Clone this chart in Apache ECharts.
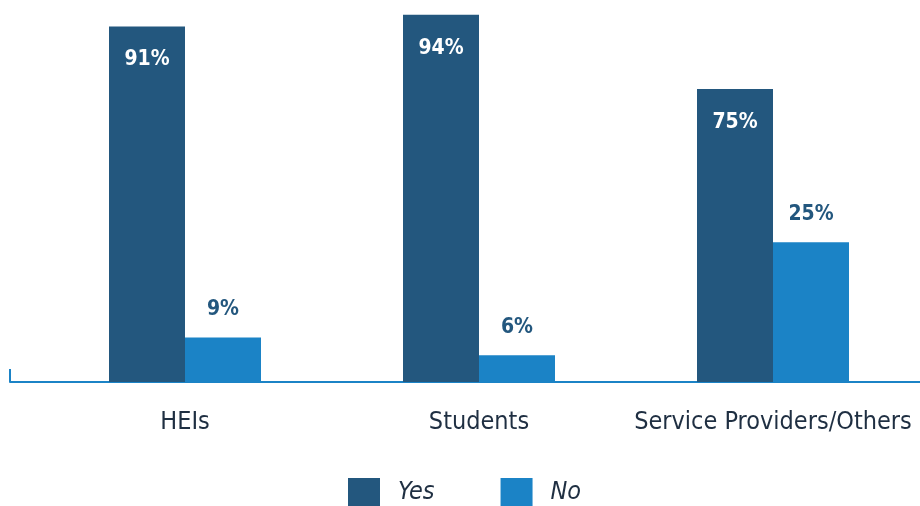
<!DOCTYPE html>
<html>
<head>
<meta charset="utf-8">
<script src="https://cdn.jsdelivr.net/npm/echarts@6/dist/echarts.min.js"></script>
<style>
html,body{margin:0;padding:0;background:#fff;}
#c{width:920px;height:506px;}
</style>
</head>
<body>
<div id="c"></div>
<script>
const categories = ['HEIs', 'Students', 'Service Providers/Others'];
const seriesNames = ['Yes', 'No'];
const yesValues = [91, 94, 75];
const noValues = [9, 6, 25];

const FONT = "'Liberation Sans Narrow', 'DejaVu Sans Condensed', 'Roboto', sans-serif";
const DARK = '#23577e';
const LIGHT = '#1b83c6';
const TEXT = '#1f2f42';

const chart = echarts.init(document.getElementById('c'), null, {renderer: 'canvas'});
chart.setOption({
  animation: false,
  backgroundColor: '#ffffff',
  textStyle: {fontFamily: FONT},
  legend: {
    data: seriesNames,
    left: 343,
    top: 473,
    icon: 'rect',
    itemWidth: 32,
    itemHeight: 28,
    itemGap: 66,
    textStyle: {fontFamily: FONT, fontSize: 25, fontStyle: 'italic', color: TEXT, padding: [0, 0, 0, 13]}
  },
  grid: [
    {left: 38, right: 0, top: 3, bottom: 124, containLabel: false},
    {left: 10, right: 0, top: 300, bottom: 124, containLabel: false}
  ],
  xAxis: [
    {
      type: 'category', gridIndex: 0, data: categories,
      axisLine: {show: false}, axisTick: {show: false},
      axisLabel: {fontFamily: FONT, fontSize: 25, color: TEXT, margin: 28, interval: 0}
    },
    {
      type: 'value', gridIndex: 1, min: 0, max: 1, interval: 1,
      axisLine: {show: true, lineStyle: {color: LIGHT, width: 2}},
      axisTick: {show: true, inside: true, length: 13, customValues: [0], lineStyle: {color: LIGHT, width: 2}},
      axisLabel: {show: false}, splitLine: {show: false}
    }
  ],
  yAxis: [
    {type: 'value', gridIndex: 0, min: 0, max: 97, show: false, splitLine: {show: false}},
    {type: 'value', gridIndex: 0, min: 1.5, max: 65.2, show: false, splitLine: {show: false}},
    {type: 'value', gridIndex: 1, show: false, splitLine: {show: false}}
  ],
  series: [
    {
      name: seriesNames[0], type: 'bar', xAxisIndex: 0, yAxisIndex: 0,
      data: yesValues, barWidth: 76, barGap: '0%',
      itemStyle: {color: DARK},
      label: {show: true, position: 'insideTop', distance: 23, formatter: '{c}%',
        fontFamily: FONT, fontSize: 21, fontWeight: 'bold', color: '#ffffff'}
    },
    {
      name: seriesNames[1], type: 'bar', xAxisIndex: 0, yAxisIndex: 1,
      data: noValues, barWidth: 76, barGap: '0%', clip: true,
      itemStyle: {color: LIGHT},
      label: {show: true, position: 'top', distance: 17, formatter: '{c}%',
        fontFamily: FONT, fontSize: 21, fontWeight: 'bold', color: DARK}
    }
  ]
});
</script>
</body>
</html>
